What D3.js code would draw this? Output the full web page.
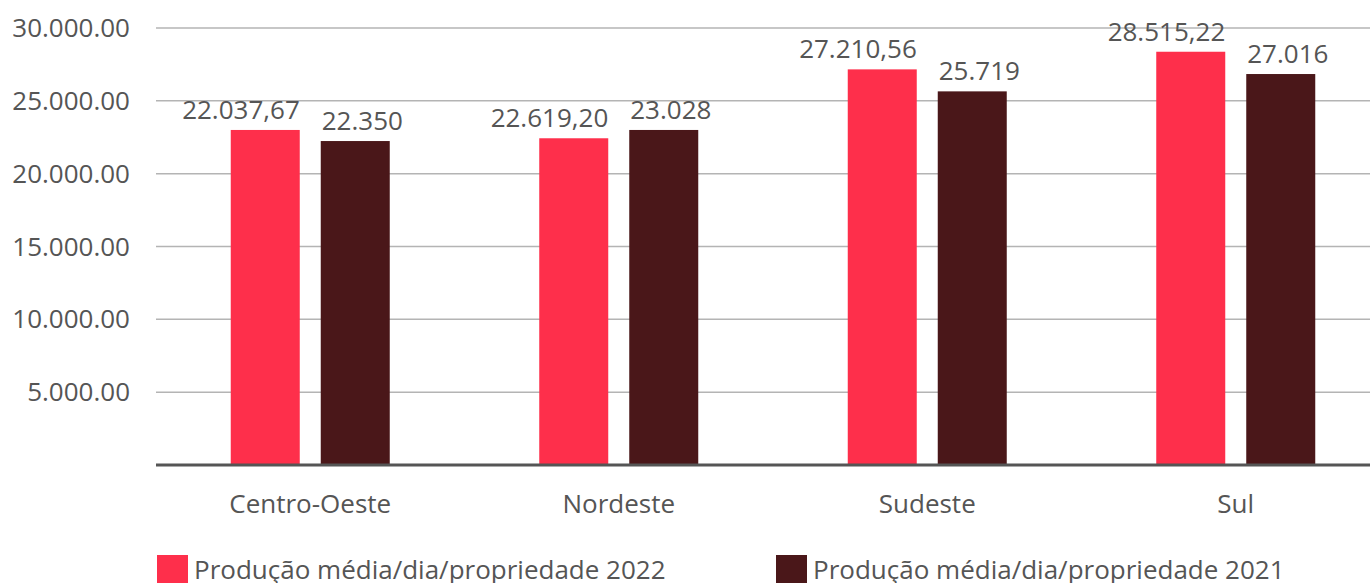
<!DOCTYPE html>
<html>
<head>
<meta charset="utf-8">
<script src="https://cdn.jsdelivr.net/npm/d3@7"></script>
<style>
  html, body { margin: 0; padding: 0; background: #fff; overflow: hidden; }
  text { font-family: "Open Sans", "Noto Sans", sans-serif; fill: #555; }
</style>
</head>
<body>
<div id="chart"></div>
<script>
const regions = ["Centro-Oeste", "Nordeste", "Sudeste", "Sul"];
const seriesNames = ["Produção média/dia/propriedade 2022", "Produção média/dia/propriedade 2021"];
const values2022 = [23000, 22430, 27160, 28370];
const values2021 = [22240, 23000, 25650, 26840];
const labels2022 = ["22.037,67", "22.619,20", "27.210,56", "28.515,22"];
const labels2021 = ["22.350", "23.028", "25.719", "27.016"];
const yTicks = [5000, 10000, 15000, 20000, 25000, 30000];
const yTickLabels = ["5.000.00", "10.000.00", "15.000.00", "20.000.00", "25.000.00", "30.000.00"];
const colors = ["#fe2f4b", "#4a1719"];

const W = 1370, H = 583;
const margin = { top: 28, left: 156, bottom: 118 };
const plotBottom = H - margin.bottom; // 465

const svg = d3.select("#chart").append("svg")
    .attr("width", W)
    .attr("height", H);

// scales
let x = d3.scaleBand().domain(regions).range([margin.left, 1390]).padding(0);
let y = d3.scaleLinear().domain([0, 30000]).range([plotBottom, margin.top]);
let xSub = d3.scaleBand().domain([0, 1])
    .range([x.bandwidth() / 2 - 79.5, x.bandwidth() / 2 + 79.5])
    .paddingInner(21 / 90);

// grid lines
svg.append("g")
    .selectAll("line")
    .data(yTicks)
    .enter()
    .append("line")
    .attr("x1", margin.left)
    .attr("x2", W)
    .attr("y1", d => y(d))
    .attr("y2", d => y(d))
    .attr("stroke", "#b4b4b4")
    .attr("stroke-width", 1.5);

// y labels
svg.append("g")
    .selectAll("text")
    .data(yTicks)
    .enter()
    .append("text")
    .attr("x", 130)
    .attr("y", d => y(d))
    .attr("dy", "0.35em")
    .attr("text-anchor", "end")
    .style("font-size", "26px")
    .text((d, i) => yTickLabels[i]);

// bars
const rows = regions.map((r, i) => ({
    region: r,
    vals: [values2022[i], values2021[i]],
    labels: [labels2022[i], labels2021[i]]
}));

let groups = svg.append("g")
    .selectAll(".group")
    .data(rows)
    .enter()
    .append("g")
    .attr("class", "group")
    .attr("transform", d => `translate(${x(d.region)},0)`);

groups.selectAll("rect")
    .data(d => d.vals.map((v, s) => ({ v: v, s: s })))
    .enter()
    .append("rect")
    .attr("x", d => xSub(d.s))
    .attr("y", d => y(d.v))
    .attr("width", xSub.bandwidth())
    .attr("height", d => plotBottom - y(d.v))
    .style("fill", d => colors[d.s]);

// 2022 labels end at the bar's right edge, 2021 labels start at its left edge
groups.selectAll(".val")
    .data(d => d.vals.map((v, s) => ({ v: v, s: s, label: d.labels[s] })))
    .enter()
    .append("text")
    .attr("class", "val")
    .attr("x", d => d.s === 0 ? xSub(d.s) + xSub.bandwidth() : xSub(d.s) + 1)
    .attr("y", d => y(d.v) - 11)
    .attr("text-anchor", d => d.s === 0 ? "end" : "start")
    .style("font-size", "26px")
    .text(d => d.label);

// x axis line
svg.append("line")
    .attr("x1", margin.left)
    .attr("x2", W)
    .attr("y1", plotBottom)
    .attr("y2", plotBottom)
    .attr("stroke", "#555")
    .attr("stroke-width", 3);

// category labels
svg.append("g")
    .selectAll("text")
    .data(regions)
    .enter()
    .append("text")
    .attr("x", d => x(d) + x.bandwidth() / 2)
    .attr("y", 513)
    .attr("text-anchor", "middle")
    .style("font-size", "26px")
    .text(d => d);

// legend
const legendX = [157, 776];
let legend = svg.append("g")
    .selectAll("g")
    .data(seriesNames)
    .enter()
    .append("g")
    .attr("transform", (d, i) => `translate(${legendX[i]},555)`);

legend.append("rect")
    .attr("width", 31)
    .attr("height", 30)
    .style("fill", (d, i) => colors[i]);

legend.append("text")
    .attr("x", 37)
    .attr("y", 24)
    .style("font-size", "26px")
    .text(d => d);
</script>
</body>
</html>
